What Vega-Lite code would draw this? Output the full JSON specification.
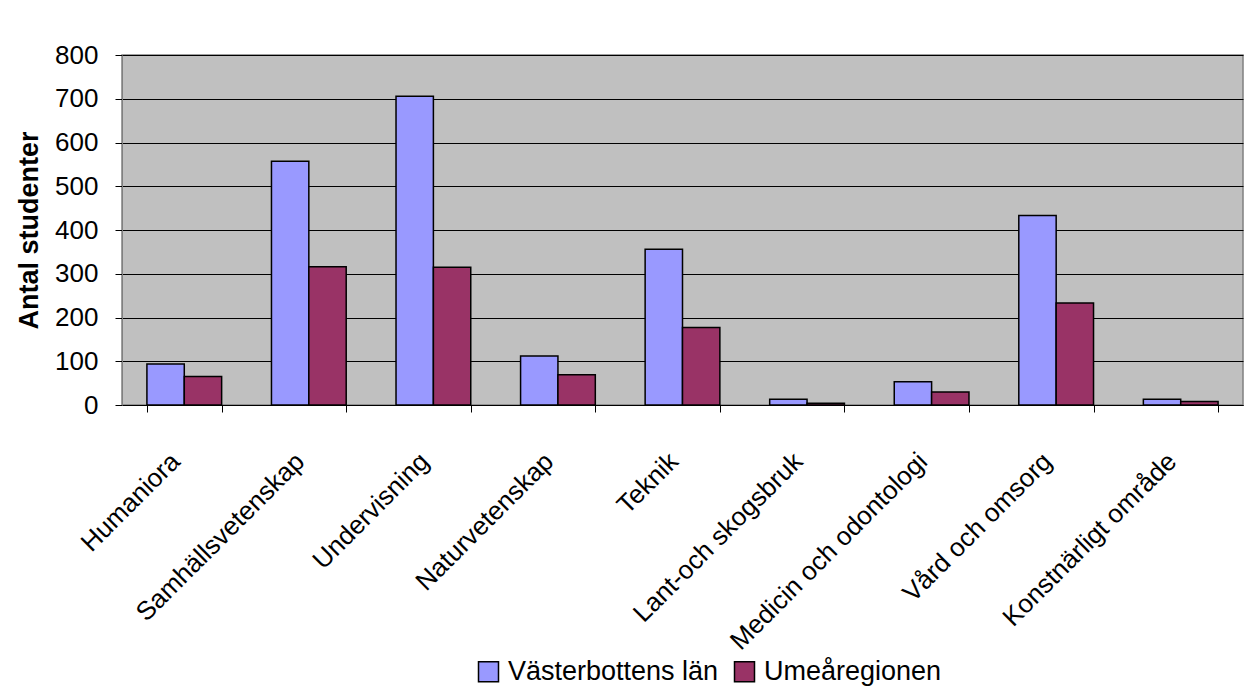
{
  "$schema": "https://vega.github.io/schema/vega-lite/v6.json",
  "width": 1121,
  "height": 350,
  "autosize": "none",
  "padding": {"left": 122, "top": 55, "right": 9, "bottom": 282},
  "background": "white",
  "data": {
    "values": [
      {"omrade": "Humaniora", "region": "Västerbottens län", "antal": 94},
      {"omrade": "Humaniora", "region": "Umeåregionen", "antal": 65},
      {"omrade": "Samhällsvetenskap", "region": "Västerbottens län", "antal": 557},
      {"omrade": "Samhällsvetenskap", "region": "Umeåregionen", "antal": 316},
      {"omrade": "Undervisning", "region": "Västerbottens län", "antal": 706},
      {"omrade": "Undervisning", "region": "Umeåregionen", "antal": 315},
      {"omrade": "Naturvetenskap", "region": "Västerbottens län", "antal": 112},
      {"omrade": "Naturvetenskap", "region": "Umeåregionen", "antal": 69},
      {"omrade": "Teknik", "region": "Västerbottens län", "antal": 356},
      {"omrade": "Teknik", "region": "Umeåregionen", "antal": 177},
      {"omrade": "Lant-och skogsbruk", "region": "Västerbottens län", "antal": 13},
      {"omrade": "Lant-och skogsbruk", "region": "Umeåregionen", "antal": 4},
      {"omrade": "Medicin och odontologi", "region": "Västerbottens län", "antal": 53},
      {"omrade": "Medicin och odontologi", "region": "Umeåregionen", "antal": 30},
      {"omrade": "Vård och omsorg", "region": "Västerbottens län", "antal": 433},
      {"omrade": "Vård och omsorg", "region": "Umeåregionen", "antal": 233},
      {"omrade": "Konstnärligt område", "region": "Västerbottens län", "antal": 13},
      {"omrade": "Konstnärligt område", "region": "Umeåregionen", "antal": 8}
    ]
  },
  "mark": {"type": "bar", "stroke": "black", "strokeWidth": 1.5},
  "encoding": {
    "x": {
      "field": "omrade",
      "type": "nominal",
      "sort": null,
      "scale": {"paddingInner": 0.4, "paddingOuter": 0.2},
      "axis": {
        "title": null,
        "labelAngle": -45,
        "labelAlign": "right",
        "labelBaseline": "middle",
        "labelOffset": -9,
        "labelPadding": 45,
        "labelFont": "Liberation Sans",
        "labelFontSize": 26,
        "labelColor": "black",
        "labelLimit": 500,
        "tickBand": "extent",
        "tickColor": "black",
        "tickSize": 7,
        "domainColor": "black",
        "domainWidth": 1,
        "grid": false,
        "encode": {
          "labels": {
            "update": {
              "dx": {"signal": "-2.1 * (length(datum.label) - 6)"}
            }
          }
        }
      }
    },
    "xOffset": {"field": "region", "sort": ["Västerbottens län", "Umeåregionen"]},
    "y": {
      "field": "antal",
      "type": "quantitative",
      "scale": {"domain": [0, 800], "nice": false},
      "axis": {
        "title": "Antal studenter",
        "titleFont": "Liberation Sans",
        "titleFontSize": 27,
        "titleFontWeight": "bold",
        "titleColor": "black",
        "titlePadding": 11,
        "values": [0, 100, 200, 300, 400, 500, 600, 700, 800],
        "labelFont": "Liberation Sans",
        "labelFontSize": 26,
        "labelColor": "black",
        "labelPadding": 17,
        "tickColor": "black",
        "tickSize": 7,
        "domainColor": "#808080",
        "grid": true,
        "gridColor": "black",
        "gridWidth": 1,
        "gridOpacity": 1
      }
    },
    "color": {
      "field": "region",
      "type": "nominal",
      "scale": {"domain": ["Västerbottens län", "Umeåregionen"], "range": ["#9999FF", "#993366"]},
      "legend": {
        "title": null,
        "orient": "none",
        "direction": "horizontal",
        "legendX": 353,
        "legendY": 603,
        "symbolType": "square",
        "symbolSize": 400,
        "symbolStrokeColor": "black",
        "symbolStrokeWidth": 1.5,
        "symbolOpacity": 1,
        "labelFont": "Liberation Sans",
        "labelFontSize": 27,
        "labelColor": "black",
        "labelOffset": 6,
        "columnPadding": 12,
        "labelLimit": 400
      }
    }
  },
  "config": {
    "view": {"fill": "#C0C0C0", "stroke": "#808080", "strokeWidth": 1.5}
  }
}
